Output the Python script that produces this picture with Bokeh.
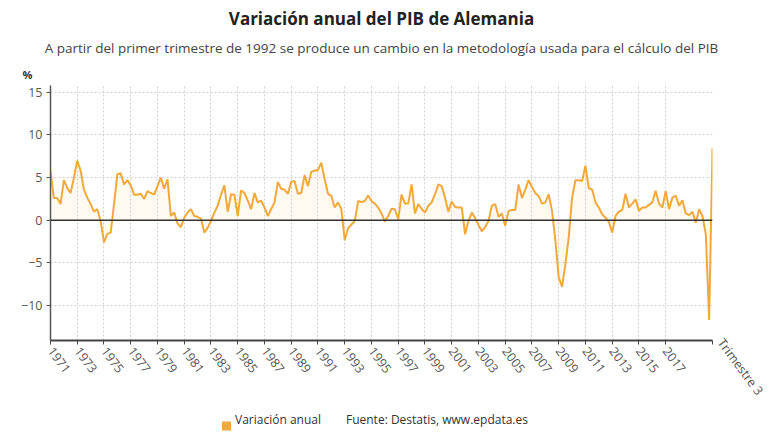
from bokeh.plotting import figure
from bokeh.models import ColumnDataSource, FixedTicker, Span, Title, LinearAxis
from bokeh.embed import file_html
from bokeh.resources import INLINE

# Variación interanual del PIB alemán, trimestral (1971 T1 - 2020 T3), en %
v_1971_1980 = [
    5.8, 2.6, 2.6, 1.9,
    4.7, 3.8, 3.2, 5.0,
    7.0, 5.8, 3.6, 2.65,
    1.9, 1.0, 1.3, -0.1,
    -2.6, -1.6, -1.45, 1.9,
    5.4, 5.5, 4.2, 4.7,
    4.1, 3.0, 3.0, 3.1,
    2.5, 3.4, 3.2, 3.0,
    4.0, 5.0, 3.7, 4.8,
    0.5, 0.9, -0.4, -0.8,
]
v_1981_1990 = [
    0.3, 0.9, 1.3, 0.5,
    0.4, 0.2, -1.45, -0.9,
    -0.1, 0.9, 1.7, 3.0,
    4.1, 1.0, 3.05, 3.0,
    0.5, 3.5, 3.2, 2.3,
    1.3, 3.2, 2.1, 2.3,
    1.5, 0.5, 1.3, 2.1,
    4.5, 3.7, 3.6, 3.1,
    4.5, 4.6, 3.1, 3.2,
    5.3, 4.0, 5.7, 5.8,
]
v_1991_2000 = [
    5.9, 6.75, 4.8, 3.1,
    2.85, 1.5, 2.1, 1.3,
    -2.35, -0.95, -0.5, -0.1,
    2.25, 2.15, 2.25, 2.9,
    2.25, 1.95, 1.5, 0.8,
    -0.15, 0.5, 1.35, 1.3,
    0.1, 3.0, 1.95, 1.95,
    4.2, 0.8, 1.9, 1.35,
    0.9, 1.7, 2.1, 3.05,
    4.2, 4.0, 2.65, 1.0,
]
v_2001_2010 = [
    2.2, 1.55, 1.5, 1.5,
    -1.65, -0.1, 0.9, 0.25,
    -0.55, -1.3, -0.8, -0.1,
    1.7, 1.9, 0.4, 0.8,
    -0.65, 1.1, 1.2, 1.2,
    4.2, 2.6, 3.6, 4.7,
    3.9, 3.2, 2.85, 1.95,
    2.1, 3.05, 1.1, -2.4,
    -6.7, -7.8, -5.15, -2.0,
    2.65, 4.7, 4.7, 4.6,
]
v_2011_2020 = [
    6.4, 3.75, 3.6, 2.1,
    1.5, 0.7, 0.3, -0.2,
    -1.45, 0.5, 1.0, 1.2,
    3.1, 1.5, 1.95, 2.45,
    1.1, 1.5, 1.5, 1.8,
    2.1, 3.45, 1.95, 1.5,
    3.45, 1.3, 2.65, 2.9,
    1.7, 2.35, 0.8, 0.6,
    1.0, -0.3, 1.3, 0.5,
    -1.65, -11.7, 8.45,
]
valores = v_1971_1980 + v_1981_1990 + v_1991_2000 + v_2001_2010 + v_2011_2020

# Etiquetas del eje horizontal: años impares en el primer trimestre y el último dato
anios_etiqueta = [str(a) for a in range(1971, 2018, 2)]
ultima_etiqueta = "Trimestre 3"
valores_eje_y = [-10, -5, 0, 5, 10, 15]
nombre_serie = "Variación anual"
texto_fuente = "Fuente: Destatis, www.epdata.es"

Y_MIN, Y_MAX = -14.1, 15.8
ANGULO = -0.93

trimestre = list(range(len(valores)))
posiciones_anios = [8 * k for k in range(len(anios_etiqueta))]
posiciones_x = posiciones_anios + [len(valores) - 1]

FONT = "Open Sans"
NARANJA = "#f2a93b"
GRIS_TEXTO = "#555555"

src = ColumnDataSource(dict(x=trimestre, y=valores, cero=[0] * len(valores)))

p = figure(width=780, height=440, output_backend="svg", toolbar_location=None,
           x_range=(0, len(valores) - 1), y_range=(Y_MIN, Y_MAX),
           min_border_left=50, min_border_right=68, min_border_top=85,
           min_border_bottom=100, background_fill_color="white",
           border_fill_color="white", outline_line_color=None)

# Relleno suave bajo la serie y la línea de variación
p.varea(x="x", y1="cero", y2="y", source=src, fill_color=NARANJA, fill_alpha=0.07)
p.line(x="x", y="y", source=src, line_color=NARANJA, line_width=2)

p.add_layout(Span(location=0, dimension="width", line_color="#333333", line_width=1.6))

# Eje horizontal: años inclinados; el rótulo del eje lleva la serie y la fuente
p.xaxis.ticker = FixedTicker(ticks=posiciones_x)
etiquetas = {pos: txt for pos, txt in zip(posiciones_anios, anios_etiqueta)}
etiquetas[len(valores) - 1] = ""
p.xaxis.major_label_overrides = etiquetas
p.xaxis.major_label_orientation = ANGULO
p.xaxis.axis_line_color = "#444444"
p.xaxis.axis_line_width = 2
p.xaxis.major_tick_line_color = "#444444"
p.xaxis.major_tick_out = 4
p.xaxis.major_tick_in = 0
p.xaxis.minor_tick_line_color = None
p.xaxis.axis_label = nombre_serie + "\u00a0" * 8 + texto_fuente
p.xaxis.axis_label_text_font = FONT
p.xaxis.axis_label_text_font_size = "12px"
p.xaxis.axis_label_text_font_style = "normal"
p.xaxis.axis_label_text_color = "#333333"
p.xaxis.axis_label_standoff = 31

# Muestra de color de la leyenda: marca menor gruesa de un eje auxiliar sin rótulos
eje_muestra = LinearAxis(ticker=FixedTicker(ticks=[], minor_ticks=[52.5]),
                         axis_line_color=None, major_tick_line_color=None,
                         major_tick_out=0, major_tick_in=0,
                         minor_tick_line_color=NARANJA, minor_tick_line_width=9,
                         minor_tick_in=9, minor_tick_out=0,
                         major_label_text_font_size="0px")
p.add_layout(eje_muestra, "below")

p.yaxis.ticker = FixedTicker(ticks=valores_eje_y)
p.yaxis.axis_line_color = "#555555"
p.yaxis.axis_line_width = 1.5
p.yaxis.major_tick_line_color = "#555555"
p.yaxis.major_tick_out = 4
p.yaxis.major_tick_in = 0
p.yaxis.minor_tick_line_color = None

for ax in (p.xaxis[0], p.yaxis[0]):
    ax.major_label_text_font = FONT
    ax.major_label_text_font_size = "12.5px"
    ax.major_label_text_color = GRIS_TEXTO
    ax.major_label_standoff = 4

# Rótulo "Trimestre 3" en la esquina inferior derecha, inclinado como los años
eje_ultimo = LinearAxis(ticker=FixedTicker(ticks=[Y_MIN + 0.05]),
                        major_label_overrides={Y_MIN + 0.05: ultima_etiqueta},
                        major_label_orientation=ANGULO,
                        axis_line_color=None, major_tick_line_color=None,
                        minor_tick_line_color=None, major_label_standoff=2,
                        major_label_text_font=FONT, major_label_text_font_size="12.5px",
                        major_label_text_color=GRIS_TEXTO)
p.add_layout(eje_ultimo, "right")

# Rejilla punteada
p.xgrid.ticker = FixedTicker(ticks=posiciones_x)
p.xgrid.grid_line_color = "#cfcfd8"
p.xgrid.grid_line_dash = "2 2"
p.ygrid.ticker = FixedTicker(ticks=[t for t in valores_eje_y if t != 0])
p.ygrid.grid_line_color = "#cfcfcf"
p.ygrid.grid_line_dash = "2 2"

# Títulos: el primero añadido queda más cerca del área de trazado
p.add_layout(Title(text="%", text_font=FONT, text_font_size="11px",
                   text_font_style="bold", text_color="#333333",
                   align="left", offset=-28, standoff=8), "above")
p.add_layout(Title(text="A partir del primer trimestre de 1992 se produce un cambio en la metodología usada para el cálculo del PIB",
                   text_font=FONT, text_font_size="13.5px", text_font_style="normal",
                   text_color="#444444", align="center", offset=9, standoff=8), "above")
p.add_layout(Title(text="Variación anual del PIB de Alemania", text_font=FONT,
                   text_font_size="17px", text_font_style="bold", text_color="#222222",
                   align="center", offset=9, standoff=6), "above")

open("out.html", "w").write(file_html(p, INLINE))
